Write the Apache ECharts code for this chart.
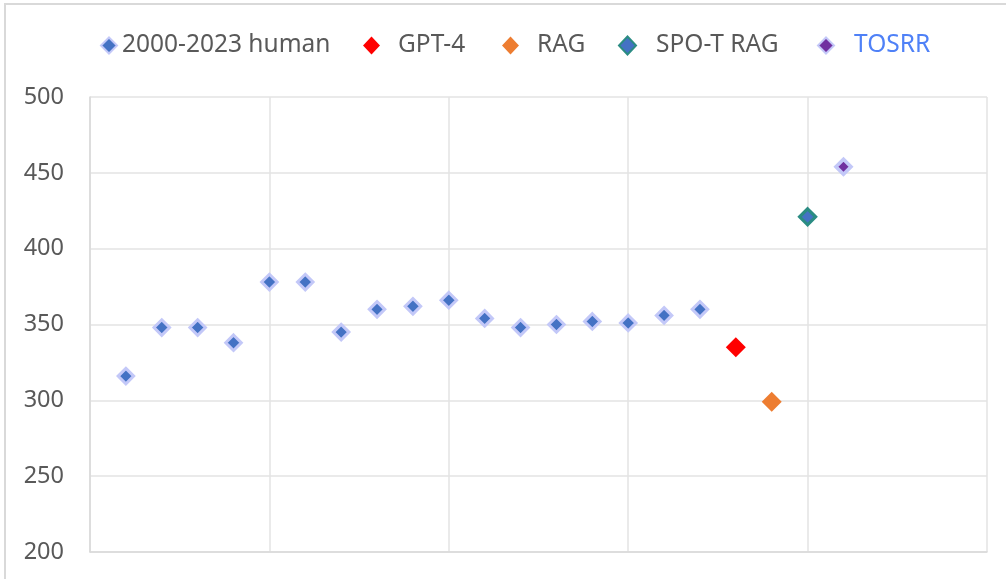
<!DOCTYPE html>
<html>
<head>
<meta charset="utf-8">
<script src="https://cdn.jsdelivr.net/npm/echarts@6/dist/echarts.min.js"></script>
<style>
html,body{margin:0;padding:0;background:#fff;}
#c{width:1006px;height:579px;}
</style>
</head>
<body>
<div id="c"></div>
<script>
// Data
const humanX = [1,2,3,4,5,6,7,8,9,10,11,12,13,14,15,16,17];
const humanY = [316,348,348,338,378,378,345,360,362,366,354,348,350,352,351,356,360];
const gpt4 = [[18,335]];
const rag = [[19,299]];
const spotRag = [[20,421]];
const tosrr = [[21,454]];
const seriesNames = ['2000-2023 human','GPT-4','RAG','SPO-T RAG','TOSRR'];
const yTicks = [200,250,300,350,400,450,500];

const FONT = '"Noto Sans", "Open Sans", sans-serif';
const humanData = humanX.map((x,i)=>[x,humanY[i]]);

const chart = echarts.init(document.getElementById('c'), null, {renderer:'canvas'});

function legendItem(name, left, pad, w, h, color){
  return {
    data:[name], left:left, top:33, itemWidth:w, itemHeight:h, padding:0,
    textStyle:{fontFamily:FONT, fontSize:24.5, color:color||'#595959', padding:[0,0,0,pad]}
  };
}

chart.setOption({
  animation:false,
  backgroundColor:'#fff',
  graphic:[{type:'rect', shape:{x:5,y:4,width:1200,height:800}, style:{fill:'none', stroke:'#d9d9d9', lineWidth:2}, silent:true}],
  legend:[
    legendItem(seriesNames[0], 100, 0, 16, 16),
    legendItem(seriesNames[1], 363, 13, 17, 18),
    legendItem(seriesNames[2], 502, 13, 17, 18),
    legendItem(seriesNames[3], 618, 15, 17, 18),
    legendItem(seriesNames[4], 817, 15, 16, 16, '#4f81f7')
  ],
  grid:{left:90, right:19, top:97, bottom:27, containLabel:false},
  xAxis:{type:'value', min:0, max:25, interval:5,
    axisLine:{show:true, lineStyle:{color:'#d9d9d9', width:1.5}},
    axisTick:{show:false}, axisLabel:{show:false},
    splitLine:{show:true, lineStyle:{color:'#e3e3e3', width:1.5}}},
  yAxis:{type:'value', min:yTicks[0], max:yTicks[yTicks.length-1], interval:50,
    axisLine:{show:true, lineStyle:{color:'#d9d9d9', width:1.5}},
    axisTick:{show:false},
    axisLabel:{fontFamily:FONT, fontSize:23.5, color:'#595959', margin:26},
    splitLine:{show:true, lineStyle:{color:'#e3e3e3', width:1.5}}},
  series:[
    {name:seriesNames[0], type:'scatter', symbol:'diamond', symbolSize:15.5, data:humanData,
      itemStyle:{color:'#4472c4', borderColor:'#c3c8f8', borderWidth:3, opacity:1}},
    {name:seriesNames[1], type:'scatter', symbol:'diamond', symbolSize:20, data:gpt4,
      itemStyle:{color:'#ff0000', opacity:1}},
    {name:seriesNames[2], type:'scatter', symbol:'diamond', symbolSize:20, data:rag,
      itemStyle:{color:'#ed7d31', opacity:1}},
    {name:seriesNames[3], type:'scatter', symbol:'diamond', symbolSize:16, data:spotRag,
      itemStyle:{color:'#4472c4', borderColor:'#2b8c83', borderWidth:3.2, opacity:1}},
    {name:seriesNames[4], type:'scatter', symbol:'diamond', symbolSize:15, data:tosrr,
      itemStyle:{color:'#7030a0', borderColor:'#c3c8f8', borderWidth:3.6, opacity:1}}
  ]
});
</script>
</body>
</html>
